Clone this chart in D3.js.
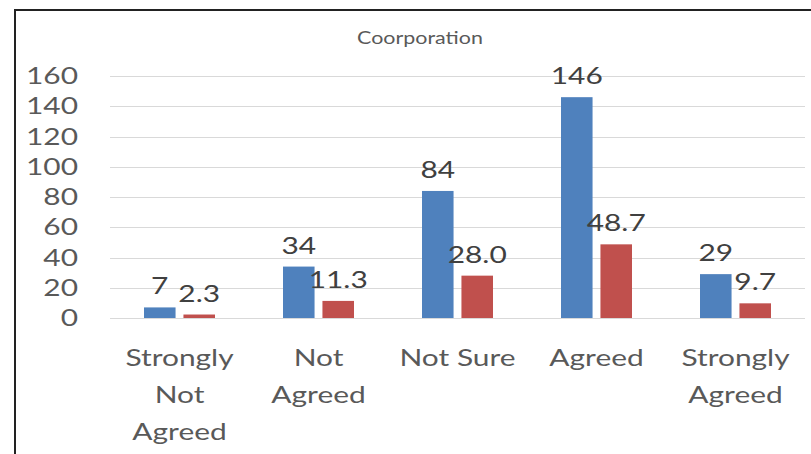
<!DOCTYPE html>
<html>
<head>
  <meta charset="utf-8">
  <title>Coorporation</title>
  <style>
    body { margin: 0; background: #fff; }
    text { font-family: Lato, "Open Sans", sans-serif; }
  </style>
</head>
<body>
<script src="https://cdn.jsdelivr.net/npm/d3@7"></script>
<svg id="chart" width="811" height="454"></svg>

<script>
    var categories = [["Strongly", "Not", "Agreed"], ["Not", "Agreed"], ["Not Sure"], ["Agreed"], ["Strongly", "Agreed"]];
    var counts = [7, 34, 84, 146, 29];
    var percents = [2.3, 11.3, 28.0, 48.7, 9.7];
    var yTicks = [0, 20, 40, 60, 80, 100, 120, 140, 160];

    var svg = d3.select("#chart");
    var sx = 1.3; // the picture is stretched sideways

    // frame
    svg.append("path")
        .attr("d", "M15,454 L15,10 L811,10")
        .attr("fill", "none")
        .attr("stroke", "#222")
        .attr("stroke-width", 2);

    function stretched(sel, x, y) {
        return sel.attr("transform", "translate(" + x + "," + y + ") scale(" + sx + ",1)");
    }

    stretched(svg.append("text"), 420, 44)
        .attr("text-anchor", "middle")
        .attr("font-size", 16.5)
        .attr("fill", "#595959")
        .text("Coorporation");

    var x0 = d3.scaleBand()
        .domain(d3.range(categories.length))
        .range([110, 805]);

    var x1 = d3.scaleBand()
        .domain([0, 1])
        .range([34, 105])
        .paddingInner(0.2);

    var y = d3.scaleLinear()
        .domain([0, 160])
        .range([318, 76]);

    // gridlines
    svg.append("g").selectAll("line")
        .data(yTicks)
        .enter()
        .append("line")
        .attr("x1", 110).attr("x2", 805)
        .attr("y1", function(d) { return Math.round(y(d)) + 0.5; })
        .attr("y2", function(d) { return Math.round(y(d)) + 0.5; })
        .attr("stroke", "#d9d9d9");

    // y labels
    svg.append("g").selectAll("text")
        .data(yTicks)
        .enter()
        .append("text")
        .each(function(d) { stretched(d3.select(this), 78, y(d) + 8); })
        .attr("text-anchor", "end")
        .attr("font-size", 23)
        .attr("fill", "#595959")
        .text(function(d) { return d; });

    var series = [
        { values: counts, color: "#4f81bd", fmt: function(v) { return v; } },
        { values: percents, color: "#c0504d", fmt: function(v) { return v.toFixed(1); } }
    ];

    series.forEach(function(s, si) {
        var g = svg.append("g");
        g.selectAll("rect")
            .data(s.values)
            .enter()
            .append("rect")
            .attr("x", function(d, i) { return x0(i) + x1(si); })
            .attr("y", function(d) { return y(d); })
            .attr("width", x1.bandwidth())
            .attr("height", function(d) { return y(0) - y(d); })
            .attr("fill", s.color);

        g.selectAll("text")
            .data(s.values)
            .enter()
            .append("text")
            .each(function(d, i) {
                stretched(d3.select(this), x0(i) + x1(si) + x1.bandwidth() / 2, y(d) - 13);
            })
            .attr("text-anchor", "middle")
            .attr("font-size", 23)
            .attr("fill", "#404040")
            .text(function(d) { return s.fmt(d); });
    });

    // x labels
    var xl = svg.append("g").selectAll("g")
        .data(categories)
        .enter()
        .append("g");

    xl.selectAll("text")
        .data(function(d, i) { return d.map(function(t, j) { return { t: t, i: i, j: j }; }); })
        .enter()
        .append("text")
        .each(function(d) {
            stretched(d3.select(this), x0(d.i) + x0.bandwidth() / 2, 366 + d.j * 37);
        })
        .attr("text-anchor", "middle")
        .attr("font-size", 23)
        .attr("fill", "#595959")
        .text(function(d) { return d.t; });
</script>
</body>
</html>
